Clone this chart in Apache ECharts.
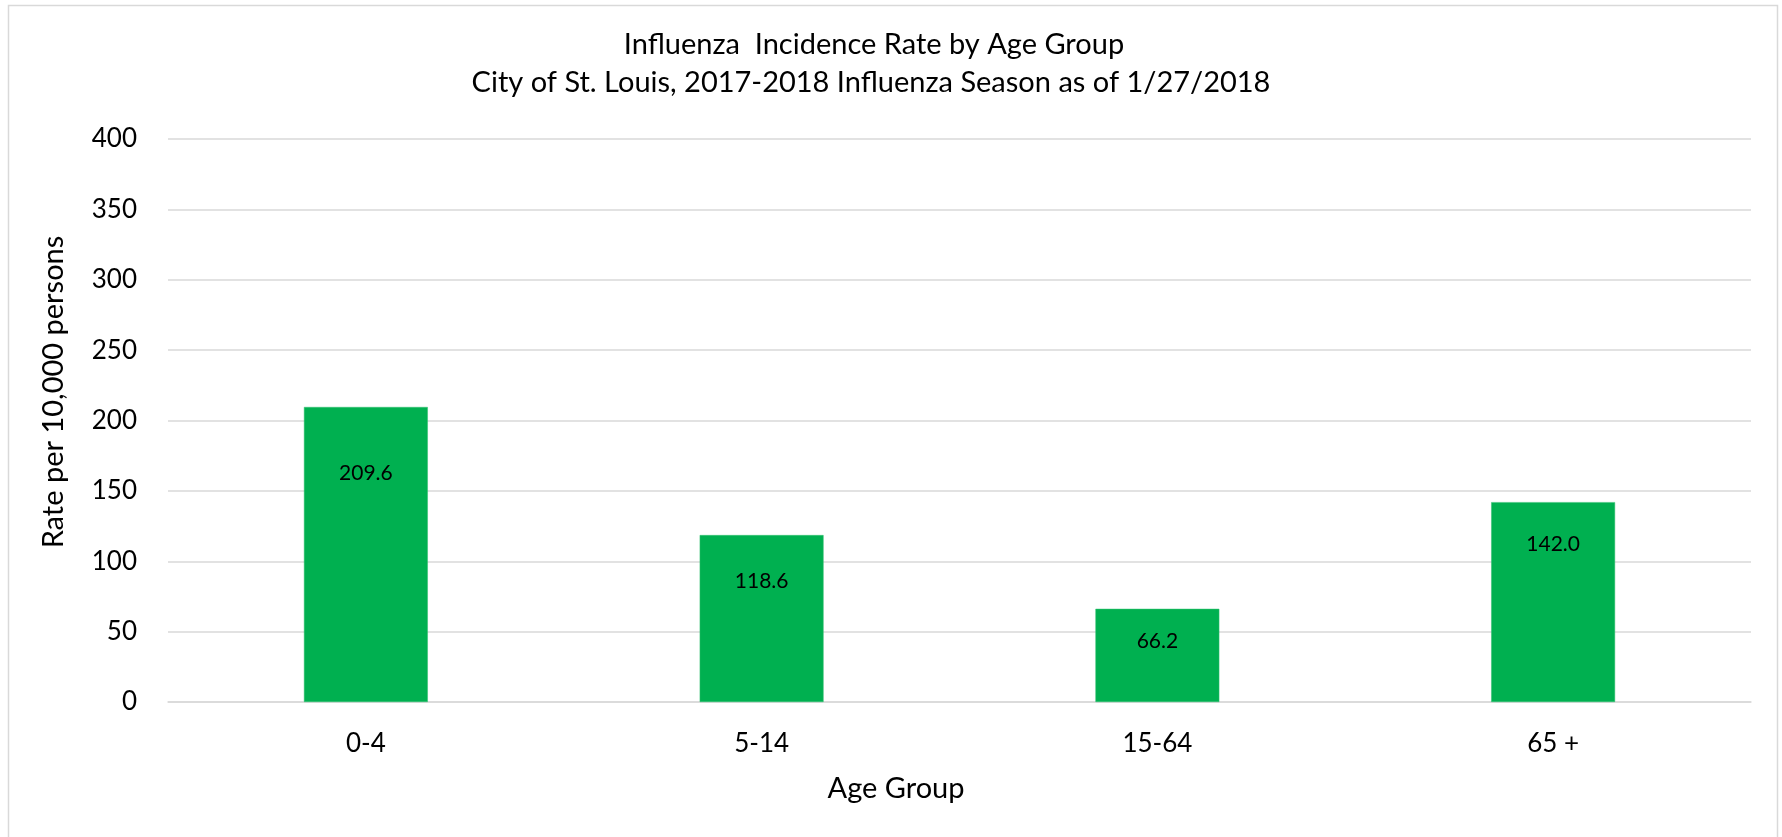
<!DOCTYPE html>
<html>
<head>
<meta charset="utf-8">
<script src="https://cdn.jsdelivr.net/npm/echarts@6/dist/echarts.min.js"></script>
<style>
html,body{margin:0;padding:0;background:#fff;}
#chart{width:1782px;height:837px;}
</style>
</head>
<body>
<div id="chart"></div>
<script>
// Data
const categories = ['0-4', '5-14', '15-64', '65 +'];
const rates = [209.6, 118.6, 66.2, 142.0];
const yTicks = [0, 50, 100, 150, 200, 250, 300, 350, 400];
const titleLines = ['Influenza  Incidence Rate by Age Group', 'City of St. Louis, 2017-2018 Influenza Season as of 1/27/2018'];
const yAxisTitle = 'Rate per 10,000 persons';
const xAxisTitle = 'Age Group';

// Styling (label distance from bar top, per bar)
const labelDistances = [56, 36, 22, 32];
const FONT = 'Lato, "Open Sans", sans-serif';

function txt(text, x, y, size, rot) {
  return {
    type: 'text', x: x, y: y, rotation: rot || 0,
    style: {
      text: text, font: size + 'px ' + FONT, fill: '#000',
      align: 'center', verticalAlign: 'middle',
      textAlign: 'center', textVerticalAlign: 'middle'
    }
  };
}

const chart = echarts.init(document.getElementById('chart'));
chart.setOption({
  backgroundColor: '#ffffff',
  animation: false,
  graphic: [
    {
      type: 'rect', silent: true, z: -1,
      shape: { x: 8.5, y: 5.5, width: 1769, height: 845 },
      style: { fill: 'none', stroke: '#d9d9d9', lineWidth: 1.5 }
    },
    txt(titleLines[0], 874, 45, 29),
    txt(titleLines[1], 871, 83, 29),
    txt(yAxisTitle, 54, 392, 29, Math.PI / 2),
    txt(xAxisTitle, 896, 789, 29)
  ],
  grid: { left: 168, right: 31, top: 139, bottom: 135, containLabel: false },
  xAxis: {
    type: 'category',
    data: categories,
    axisLine: { show: true, lineStyle: { color: '#d9d9d9', width: 1.5 } },
    axisTick: { show: false },
    axisLabel: { fontFamily: FONT, fontSize: 26, color: '#000', margin: 29, lineHeight: 26 }
  },
  yAxis: {
    type: 'value',
    min: yTicks[0],
    max: yTicks[yTicks.length - 1],
    interval: yTicks[1] - yTicks[0],
    axisLine: { show: false },
    axisTick: { show: false },
    splitLine: { lineStyle: { color: '#d9d9d9', width: 1.5 } },
    axisLabel: { fontFamily: FONT, fontSize: 26, color: '#000', margin: 31 }
  },
  series: [{
    type: 'bar',
    barWidth: '31.3%',
    data: rates.map((v, i) => ({
      value: v,
      label: { distance: labelDistances[i] }
    })),
    itemStyle: { color: '#00b050', borderColor: '#33c070', borderWidth: 0.5 },
    label: {
      show: true,
      position: 'insideTop',
      formatter: p => p.value.toFixed(1),
      fontFamily: FONT,
      fontSize: 21,
      color: '#000'
    }
  }]
});
</script>
</body>
</html>
